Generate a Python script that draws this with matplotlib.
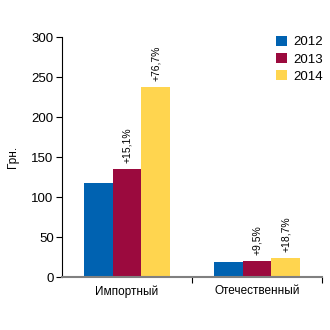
import matplotlib
matplotlib.use("Agg")
import matplotlib.pyplot as plt
import numpy as np

categories = ["Импортный", "Отечественный"]
years = ["2012", "2013", "2014"]
values = {
    "2012": [117, 18.5],
    "2013": [135, 20.3],
    "2014": [238, 24],
}
labels = {
    "2013": ["+15,1%", "+9,5%"],
    "2014": ["+76,7%", "+18,7%"],
}
colors = {"2012": "#0062B1", "2013": "#9B0A3E", "2014": "#FFD54F"}

plt.rcParams['font.family'] = ['Liberation Sans', 'DejaVu Sans']

fig = plt.figure(figsize=(3.3, 3.3), dpi=100)
ax = fig.add_axes([62/330, 53/330, 260/330, 240/330])

w = 0.222
x = np.arange(len(categories))
for i, y in enumerate(years):
    pos = x + (i - 1) * w
    ax.bar(pos, values[y], width=w, color=colors[y], label=y, zorder=2)
    if y in labels:
        for p, v, t in zip(pos, values[y], labels[y]):
            ax.annotate(t, (p, v), xytext=(0, 4), textcoords="offset points",
                        rotation=90, ha="center", va="bottom", fontsize=7.5)

ax.set_xlim(-0.5, 1.5)
ax.set_ylim(0, 300)
ax.set_yticks(range(0, 301, 50))
ax.tick_params(axis='y', labelsize=9.5, length=4, width=0.8, pad=2)
ax.set_xticks([0.5, 1.5], minor=False)
ax.set_xticklabels([])
ax.tick_params(axis='x', length=4, width=0.8, color='black')
for xi, c in zip(x, categories):
    ax.text(xi, -10, c, ha='center', va='top', fontsize=8.5,
            transform=ax.transData)
ax.spines['top'].set_visible(False)
ax.spines['right'].set_visible(False)
ax.spines['bottom'].set_color('#808080')
ax.spines['bottom'].set_linewidth(1.5)
ax.spines['left'].set_linewidth(0.8)
ax.set_ylabel("Грн.", fontsize=8.5)
ax.yaxis.set_label_coords(-0.165, 0.5)

ax.legend(loc='upper right', bbox_to_anchor=(1.05, 1.055), frameon=False,
          fontsize=9.5, handlelength=0.8, handleheight=0.8, handletextpad=0.5,
          labelspacing=0.35)

fig.savefig("out.png", dpi=100)
